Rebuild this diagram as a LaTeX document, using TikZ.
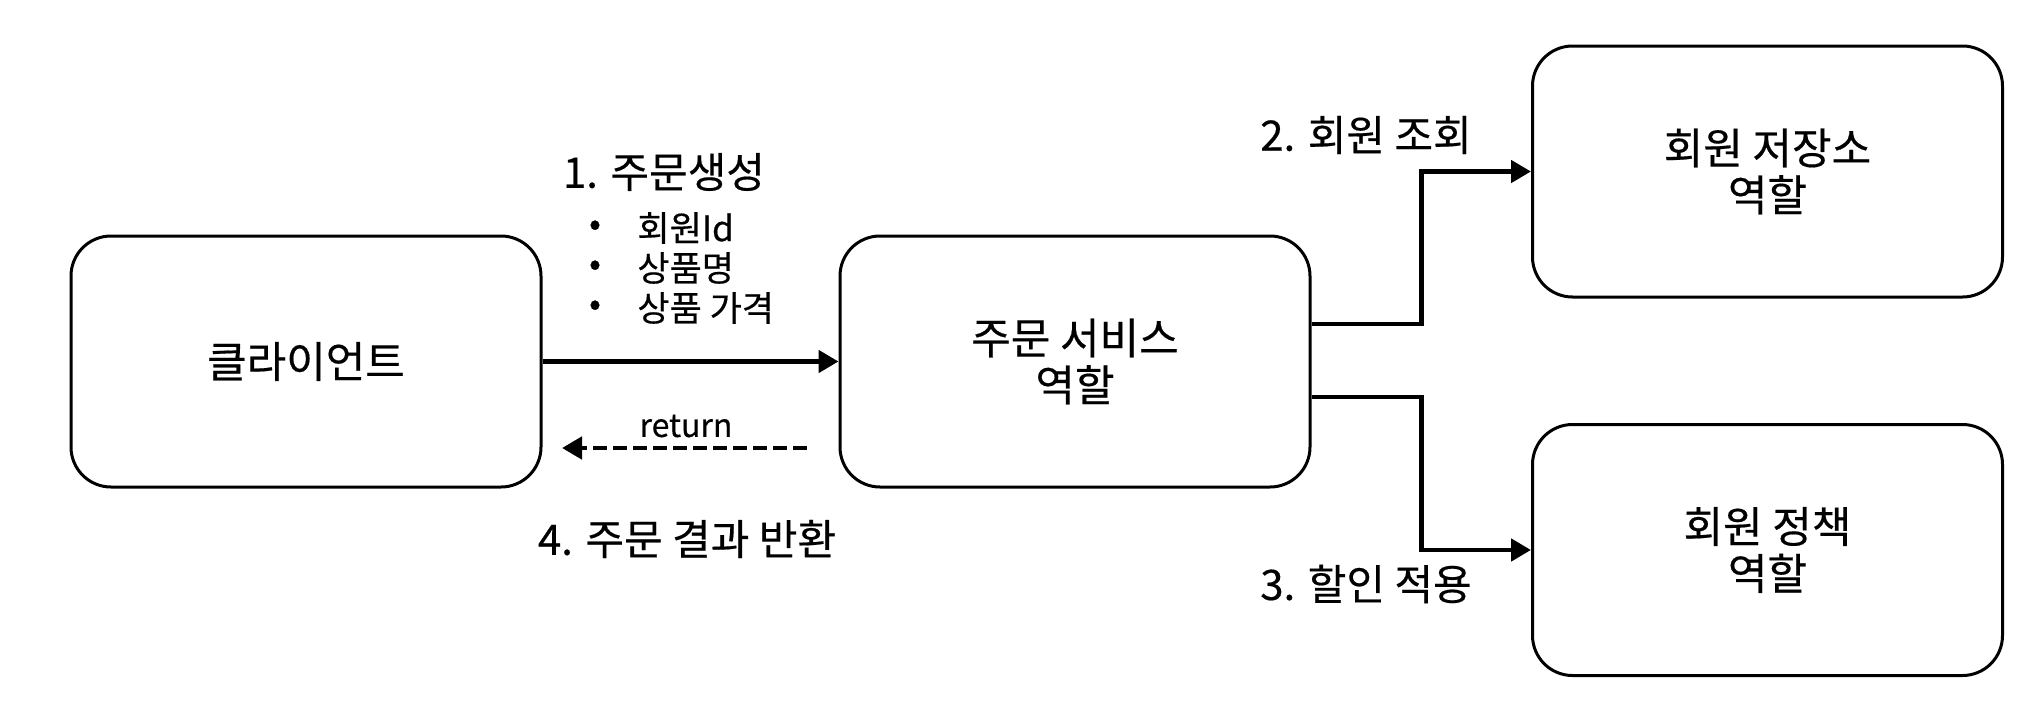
\documentclass[tikz,border=0pt]{standalone}
\usepackage{fontspec}
\setmainfont{Noto Sans CJK KR}[FakeBold=0.4]
\usetikzlibrary{arrows.meta,calc}
\tikzset{
  box/.style={draw=black, line width=1.5pt, rounded corners=20pt, minimum width=235pt, minimum height=125.5pt, align=center, font=\fontsize{21.5pt}{23.5pt}\selectfont, inner sep=0pt},
  arr/.style={line width=2.4pt, -{Triangle[length=10pt,width=11pt]}},
  darr/.style={line width=2.4pt, dash pattern=on 7pt off 3pt, -{Triangle[length=10pt,width=11pt]}},
  lbl/.style={font=\fontsize{21pt}{24pt}\selectfont, inner sep=0pt},
  small/.style={font=\fontsize{17.5pt}{20pt}\selectfont, inner sep=0pt},
  rlbl/.style={font=\fontsize{16pt}{19pt}\selectfont, inner sep=0pt},
}
\begin{document}
\begin{tikzpicture}[x=0.5pt,y=-0.5pt]
\useasboundingbox[fill=white] (0,0) rectangle (2042,712);
\node[box] (client) at (306,361.5) {클라이언트};
\node[box] (service) at (1075,361.5) {주문 서비스\\역할};
\node[box] (repo) at (1767.5,171.5) {회원 저장소\\역할};
\node[box] (policy) at (1767.5,550) {회원 정책\\역할};

\node[lbl] (l1) at (664,172) {1. 주문생성};
\node[small] (b1) at (595,228) {•};
\node[small] (b2) at (595,268) {•};
\node[small] (b3) at (595,308) {•};
\node[small,anchor=west] (t1) at (637,228) {회원Id};
\node[small,anchor=west] (t2) at (637,268) {상품명};
\node[small,anchor=west] (t3) at (637,308) {상품 가격};
\node[rlbl] (ret) at (686,426) {return};
\node[lbl] (l4) at (687,539) {4. 주문 결과 반환};
\node[lbl] (l2) at (1366,135) {2. 회원 조회};
\node[lbl] (l3) at (1366,584) {3. 할인 적용};

\coordinate (rs) at (807,448);
\coordinate (re) at (562,448);

\draw[arr] (client.east) -- (service.west);
\draw[darr] (rs) -- (re);
\draw[arr] ($(service.east)+(0,-37.5)$) -- ++(110,0) |- (repo.west);
\draw[arr] ($(service.east)+(0,35.5)$) -- ++(110,0) |- (policy.west);
\end{tikzpicture}
\end{document}
